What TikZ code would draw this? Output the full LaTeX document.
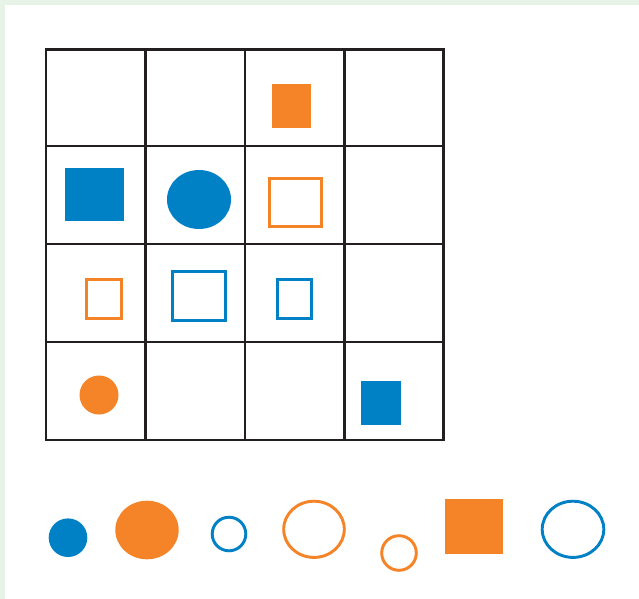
\documentclass[tikz,border=0pt]{standalone}
\definecolor{cblue}{HTML}{0081C6}
\definecolor{corange}{HTML}{F58428}
\definecolor{cframe}{HTML}{E6F3E6}
\definecolor{cgrid}{HTML}{231F20}
\tikzset{outline/.style={line width=2.2pt}}
\begin{document}
\begin{tikzpicture}[x=0.75pt,y=-0.75pt,line width=1.9pt]
  \useasboundingbox (0,0) rectangle (639,599);
  \fill[cframe] (0,0) rectangle (639,599);
  \fill[white] (5,5) rectangle (639,599);
  % grid
  \foreach \x in {145.5,245,344.5}
    \draw[cgrid] (\x,49.5) -- (\x,440);
  \foreach \y in {146,244,342}
    \draw[cgrid] (46,\y) -- (443.5,\y);
  \draw[cgrid] (46,49.5) rectangle (443.5,440);
  % shapes in the grid
  \fill[corange] (272,84) rectangle (311,128);
  \fill[cblue] (65,168) rectangle (124,221);
  \fill[cblue] (199,199.5) ellipse [x radius=32, y radius=29.5];
  \draw[corange,outline] (269.4,178.4) rectangle (321.6,226.6);
  \draw[corange,outline] (86.4,279.4) rectangle (121.6,318.6);
  \draw[cblue,outline] (172.4,271.4) rectangle (225.6,320.1);
  \draw[cblue,outline] (277.4,279.4) rectangle (311.6,318.6);
  \fill[corange] (99,395) circle (19.5);
  \fill[cblue] (361,381) rectangle (401,425);
  % row of pieces below
  \fill[cblue] (68,537.7) circle (19.3);
  \fill[corange] (147,530) ellipse [x radius=31.7, y radius=29.3];
  \draw[cblue,outline] (229,534) circle (16.8);
  \draw[corange,outline] (314,529.3) ellipse [x radius=30.3, y radius=28.1];
  \draw[corange,outline] (399,553) circle (17.3);
  \fill[corange] (445,499) rectangle (503,554);
  \draw[cblue,outline] (573,529.3) ellipse [x radius=30.8, y radius=28.1];
\end{tikzpicture}
\end{document}
